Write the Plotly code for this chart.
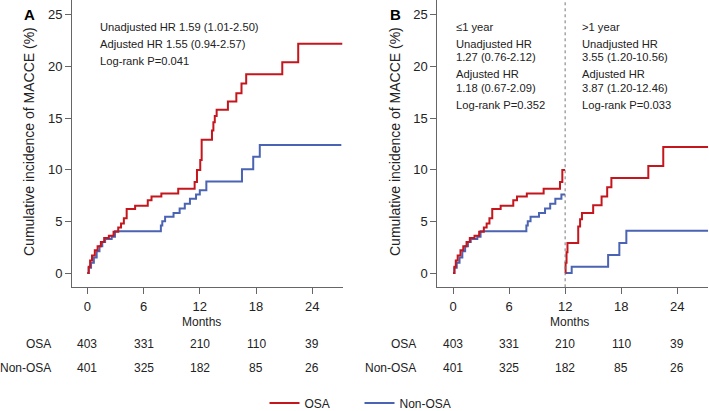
import plotly.graph_objects as go

# ---- data ----
# Panel A: cumulative incidence (%) step curves
osa_t = [0, 0.15, 0.3, 0.5, 0.8, 1.1, 1.45, 1.8, 2.3, 2.8, 3.3, 3.6, 3.9, 4.2, 5.1, 6.45, 6.85,
         7.9, 9.7, 11.45, 11.7, 12.05, 12.2, 13.3, 13.45, 13.6, 13.8, 15.0, 15.9, 16.45, 16.95,
         20.8, 22.5, 27.2]
osa_v = [0, 0.6, 1.2, 1.7, 2.2, 2.6, 3.0, 3.4, 3.6, 4.0, 4.4, 4.8, 5.3, 6.2, 6.5, 7.05, 7.4,
         7.7, 8.15, 8.8, 9.97, 10.94, 12.9, 13.8, 14.6, 15.2, 15.8, 16.6, 17.4, 18.35, 19.25,
         20.4, 22.2, 22.2]
non_t = [0, 0.15, 0.4, 0.7, 1.0, 1.3, 1.6, 1.9, 2.6, 2.95, 7.85, 8.0, 8.3, 9.2, 9.85, 10.4,
         10.95, 11.6, 12.0, 12.7, 16.5, 17.7, 18.4, 27.1]
non_v = [0, 0.5, 1.0, 1.5, 2.1, 2.6, 3.0, 3.3, 3.5, 4.05, 4.6, 5.0, 5.45, 5.8, 6.25, 6.7,
         7.2, 7.6, 8.0, 8.85, 10.05, 11.25, 12.4, 12.4]

# Panel B: landmark analysis, >1 year part restarts at 12 months
osa_late_t = [12.0, 12.05, 12.15, 12.25, 13.4, 13.6, 13.8, 15.0, 15.9, 16.5, 16.95, 20.9, 22.5, 27.3]
osa_late_v = [0, 1.0, 2.0, 2.9, 4.5, 5.2, 5.8, 6.55, 7.4, 8.3, 9.2, 10.35, 12.2, 12.2]
non_late_t = [12.0, 12.7, 16.6, 17.8, 18.55, 27.3]
non_late_v = [0, 0.6, 1.75, 2.9, 4.1, 4.1]
landmark = 12

# Number at risk
risk_times = [0, 6, 12, 18, 24]
risk_osa = [403, 331, 210, 110, 39]
risk_non = [401, 325, 182, 85, 26]

x_ticks = [0, 6, 12, 18, 24]
y_ticks = [0, 5, 10, 15, 20, 25]

text_a = ["Unadjusted HR 1.59 (1.01-2.50)", "Adjusted HR 1.55 (0.94-2.57)", "Log-rank P=0.041"]
text_b_early = ["≤1 year", "Unadjusted HR", "1.27 (0.76-2.12)", "Adjusted HR", "1.18 (0.67-2.09)", "Log-rank P=0.352"]
text_b_late = [">1 year", "Unadjusted HR", "3.55 (1.20-10.56)", "Adjusted HR", "3.87 (1.20-12.46)", "Log-rank P=0.033"]

RED = "#c4161c"
BLUE = "#4a63b3"
FONT = "Arial, Liberation Sans, sans-serif"
TXT = "#222222"
AX = "#666666"

W, H = 709, 411
def px(x):
    return x / W
def py(y):
    return 1 - y / H

def truncate(t, v, limit):
    tt, vv = [], []
    for a, b in zip(t, v):
        if a < limit:
            tt.append(a); vv.append(b)
    tt.append(limit); vv.append(vv[-1])
    return tt, vv

fig = go.Figure()
line_w = 2
fig.add_trace(go.Scatter(x=non_t, y=non_v, mode="lines", line=dict(color=BLUE, width=line_w, shape="hv"),
                         name="Non-OSA", legendrank=2, xaxis="x", yaxis="y"))
fig.add_trace(go.Scatter(x=osa_t, y=osa_v, mode="lines", line=dict(color=RED, width=line_w, shape="hv"),
                         name="OSA", legendrank=1, xaxis="x", yaxis="y"))

ot, ov = truncate(osa_t, osa_v, landmark)
nt, nv = truncate(non_t, non_v, landmark)
for t, v, c in [(nt, nv, BLUE), (ot, ov, RED), (non_late_t, non_late_v, BLUE), (osa_late_t, osa_late_v, RED)]:
    fig.add_trace(go.Scatter(x=t, y=v, mode="lines", line=dict(color=c, width=line_w, shape="hv"),
                             showlegend=False, xaxis="x2", yaxis="y2"))

yr = [-1.384, 26.43]
common_x = dict(tickvals=x_ticks, ticks="outside", ticklen=6, tickcolor=AX, showline=True, linecolor=AX,
                linewidth=1, showgrid=False, zeroline=False, ticklabelstandoff=1, automargin=False,
                tickfont=dict(size=13, color=TXT, family=FONT))
common_y = dict(tickvals=y_ticks, ticks="outside", ticklen=6, tickcolor=AX, showline=True, linecolor=AX,
                linewidth=1, showgrid=False, zeroline=False, range=yr, automargin=False,
                tickfont=dict(size=13, color=TXT, family=FONT))

fig.update_layout(
    width=W, height=H, margin=dict(l=0, r=0, t=0, b=0, autoexpand=False),
    paper_bgcolor="white", plot_bgcolor="white",
    font=dict(family=FONT, color=TXT),
    xaxis=dict(domain=[px(72), px(343.3)], range=[-1.632, 27.31], anchor="y", **common_x),
    yaxis=dict(domain=[py(287.3), 1], anchor="x", **common_y),
    xaxis2=dict(domain=[px(437.3), px(708.3)], range=[-1.68, 27.32], anchor="y2", **common_x),
    yaxis2=dict(domain=[py(287.3), 1], anchor="x2", **common_y),
    legend=dict(orientation="h", x=px(359.5), xanchor="center", y=py(403), yanchor="middle",
                entrywidth=50, font=dict(size=12, color=TXT, family=FONT), bgcolor="rgba(0,0,0,0)"),
    showlegend=True,
)

# landmark dashed line
fig.add_shape(type="line", xref="x2", yref="paper", x0=landmark, x1=landmark, y0=py(287.3), y1=1,
              line=dict(color="#777777", width=1, dash="dot"))

ann = []
def add(text, x, y, size=11, xanchor="left", xref="paper", bold=False, angle=0):
    ann.append(dict(text=("<b>%s</b>" % text) if bold else text, x=x, y=y, xref=xref, yref="paper",
                    xanchor=xanchor, yanchor="middle", showarrow=False, textangle=angle, borderpad=0,
                    font=dict(size=size, color=TXT if not bold else "#000", family=FONT)))

add("A", px(29), py(15), size=15, xanchor="center", bold=True)
add("B", px(395), py(15), size=15, xanchor="center", bold=True)
for cx in (29, 395):
    add("Cumulative incidence of MACCE (%)", px(cx), py(142), size=14, xanchor="center", angle=-90)
add("Months", px(201.7), py(321.5), size=12, xanchor="center")
add("Months", px(569.3), py(321.5), size=12, xanchor="center")

TS = 11.2
for i, s in enumerate(text_a):
    add(s, px(99), py([27.3, 44.3, 61.3][i]), size=TS)
ys_b = [27.3, 44.3, 57.3, 74, 87.7, 105]
for s, y in zip(text_b_early, ys_b):
    add(s, px(455), py(y), size=TS)
for s, y in zip(text_b_late, ys_b):
    add(s, px(580.5), py(y), size=TS)

# number at risk tables
for xr, lab_x in (("x", 52), ("x2", 417)):
    add("OSA", px(lab_x), py(343.5), size=12, xanchor="right")
    add("Non-OSA", px(lab_x), py(368), size=12, xanchor="right")
    for t, a, b in zip(risk_times, risk_osa, risk_non):
        add(str(a), t, py(343.5), size=12, xanchor="center", xref=xr)
        add(str(b), t, py(368), size=12, xanchor="center", xref=xr)

fig.update_layout(annotations=ann)
fig.write_html("out.html", config={"displayModeBar": False},
               post_script="document.body.style.margin='0';document.body.style.overflow='hidden';")
